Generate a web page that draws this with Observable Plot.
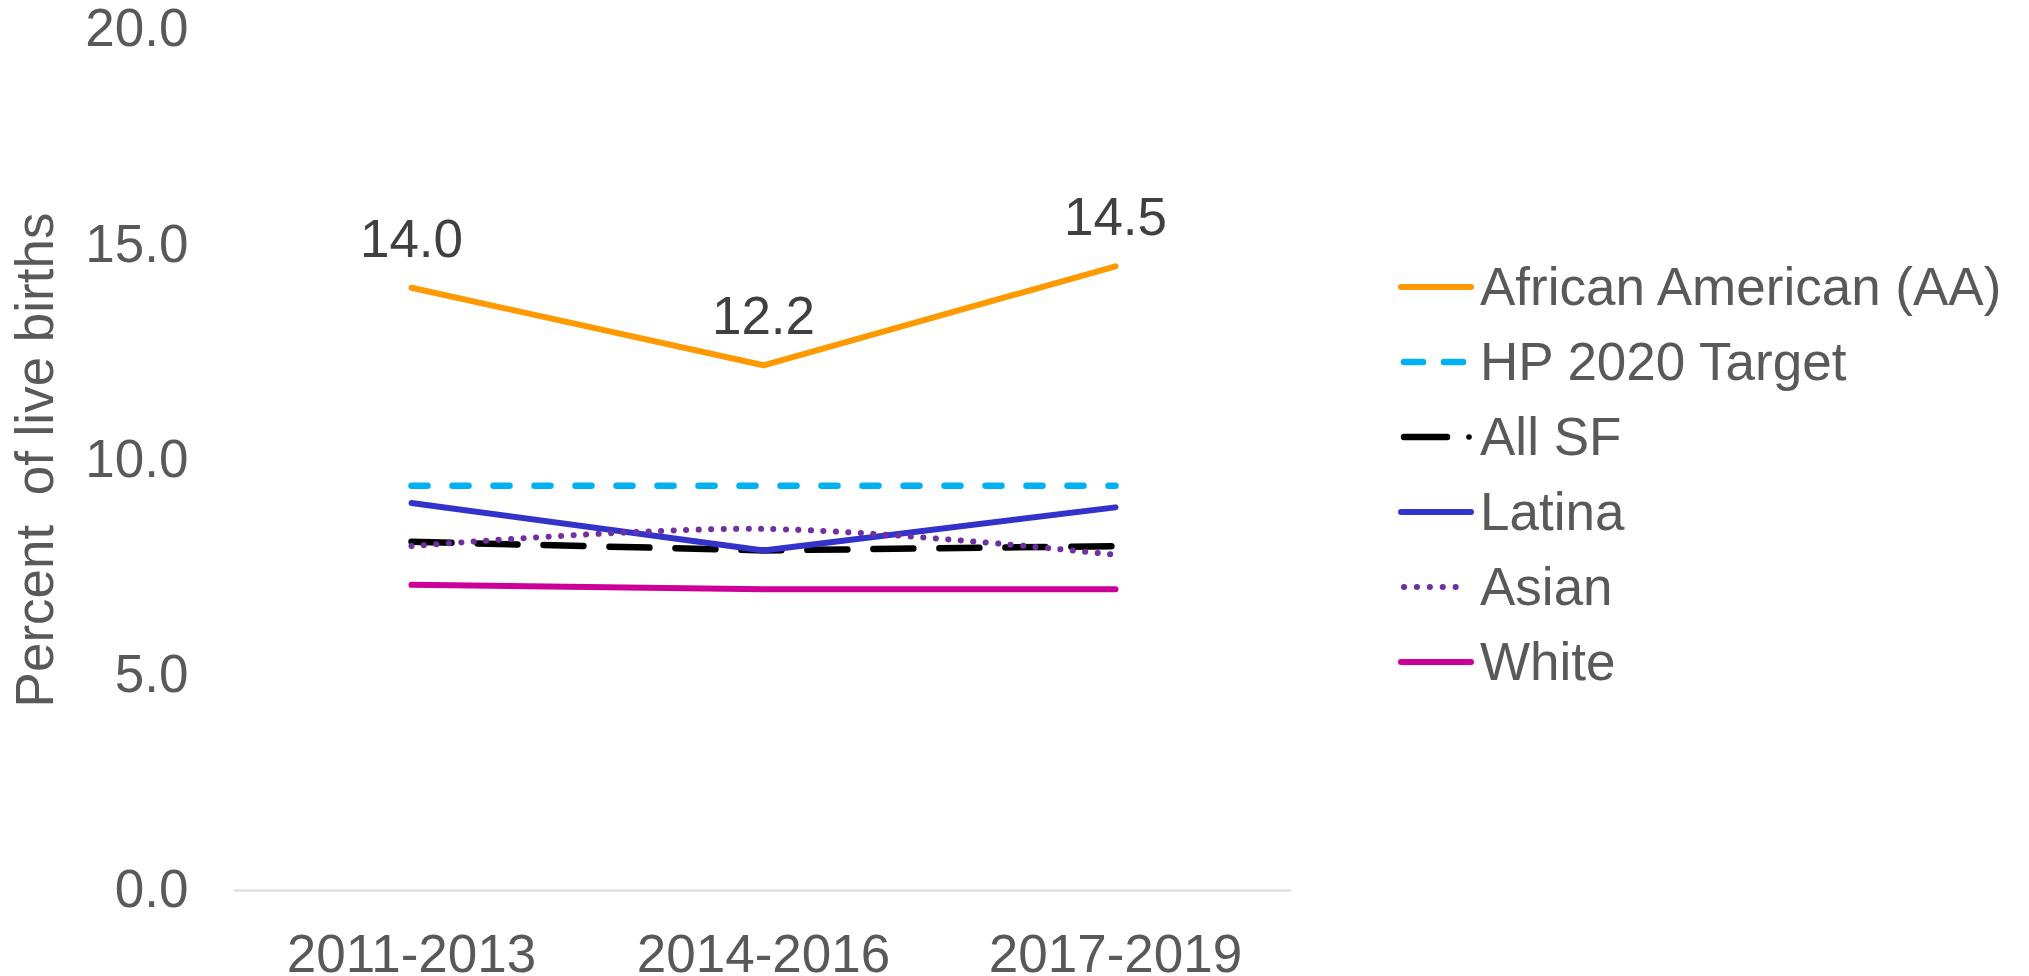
<!DOCTYPE html>
<html>
<head>
<meta charset="utf-8">
<script src="https://cdn.jsdelivr.net/npm/d3@7"></script>
<script src="https://cdn.jsdelivr.net/npm/@observablehq/plot@0.6"></script>
<style>
  html, body { margin: 0; padding: 0; background: #fff; }
  #wrap { position: relative; width: 2029px; height: 976px; overflow: hidden; font-family: "Liberation Sans", Arial, sans-serif; }
  #chart { position: absolute; left: 0; top: 0; }
  #chart svg text { white-space: pre; }
  #legend { position: absolute; left: 1396px; top: 250px; }
  .row { position: absolute; left: 0; height: 75px; display: flex; align-items: center; white-space: nowrap; }
  .row span { font-size: 53px; color: #595959; margin-left: 6px; line-height: 1; }
</style>
</head>
<body>
<div id="wrap"><div id="chart"></div><div id="legend"></div></div>
<script>
// ---- data ----
const periods = ["2011-2013", "2014-2016", "2017-2019"];
const seriesNames = ["African American (AA)", "HP 2020 Target", "All SF", "Latina", "Asian", "White"];
const africanAmerican = [14.0, 12.2, 14.5];
const hp2020Target = [9.4, 9.4, 9.4];
const allSF = [8.1, 7.9, 8.0];
const latina = [9.0, 7.9, 8.9];
const asian = [8.0, 8.4, 7.8];
const white = [7.1, 7.0, 7.0];
const yTicks = [0, 5, 10, 15, 20];
const yTitle = "Percent  of live births";

// ---- styling (kept apart from data) ----
const seriesValues = [africanAmerican, hp2020Target, allSF, latina, asian, white];
const styles = [
  {stroke: "#FF9900", strokeWidth: 6},
  {stroke: "#00B0F0", strokeWidth: 6.5, strokeDasharray: "16,25", strokeLinecap: "round"},
  {stroke: "#000000", strokeWidth: 6.5, strokeDasharray: "40,26", strokeLinecap: "round"},
  {stroke: "#3333CC", strokeWidth: 6},
  {stroke: "#7030A0", strokeWidth: 6, strokeDasharray: "0.1,12.4", strokeLinecap: "round", curve: "catmull-rom"},
  {stroke: "#CC0099", strokeWidth: 6}
];

const table = seriesNames.map((name, si) =>
  periods.map((p, i) => ({series: name, period: p, value: seriesValues[si][i]}))
);

const font = "Liberation Sans, Arial, sans-serif";

const lineMarks = table.map((rows, si) =>
  Plot.line(rows, {x: "period", y: "value", strokeLinejoin: "round", ...styles[si]})
);

const chart = Plot.plot({
  width: 1330,
  height: 976,
  marginLeft: 234,
  marginRight: 39,
  marginTop: 29,
  marginBottom: 86,
  style: {fontFamily: font, fontSize: "53px", color: "#595959", background: "transparent"},
  x: {type: "point", domain: periods, padding: 0.5, label: null, tickSize: 0, tickPadding: 44},
  y: {domain: [0, 20], ticks: yTicks, tickFormat: d => d.toFixed(1), tickSize: 0, tickPadding: 46, label: null},
  marks: [
    Plot.ruleY([0], {stroke: "#D9D9D9", strokeWidth: 2}),
    ...lineMarks,
    Plot.text(table[0], {x: "period", y: "value", text: d => d.value.toFixed(1), dy: -48, fill: "#404040", fontSize: 53, textAnchor: "middle"}),
    Plot.text([yTitle], {frameAnchor: "left", dx: -198, rotate: -90, fill: "#595959", fontSize: 53, textAnchor: "middle"})
  ]
});
document.getElementById("chart").appendChild(chart);

// ---- legend ----
const legend = document.getElementById("legend");
const ns = "http://www.w3.org/2000/svg";
seriesNames.forEach((name, si) => {
  const row = document.createElement("div");
  row.className = "row";
  row.style.top = (si * 75 - 1) + "px";
  const svg = document.createElementNS(ns, "svg");
  svg.setAttribute("width", 78);
  svg.setAttribute("height", 20);
  const st = styles[si];
  const addLine = (x1, x2, extra) => {
    const l = document.createElementNS(ns, "line");
    l.setAttribute("x1", x1); l.setAttribute("x2", x2);
    l.setAttribute("y1", 10); l.setAttribute("y2", 10);
    l.setAttribute("stroke", st.stroke);
    l.setAttribute("stroke-width", st.strokeWidth);
    l.setAttribute("stroke-linecap", "round");
    if (extra) l.setAttribute("stroke-dasharray", extra);
    svg.appendChild(l);
  };
  if (si === 1) { addLine(8, 27); addLine(48, 67); }
  else if (si === 2) { addLine(8, 51); const c = document.createElementNS(ns, "circle"); c.setAttribute("cx", 73); c.setAttribute("cy", 10); c.setAttribute("r", 2.8); c.setAttribute("fill", "#000"); svg.appendChild(c); }
  else if (si === 4) { addLine(8, 72, "0.1,12.8"); }
  else { addLine(5, 75); }
  row.appendChild(svg);
  const span = document.createElement("span");
  span.textContent = name;
  row.appendChild(span);
  legend.appendChild(row);
});
</script>
</body>
</html>
